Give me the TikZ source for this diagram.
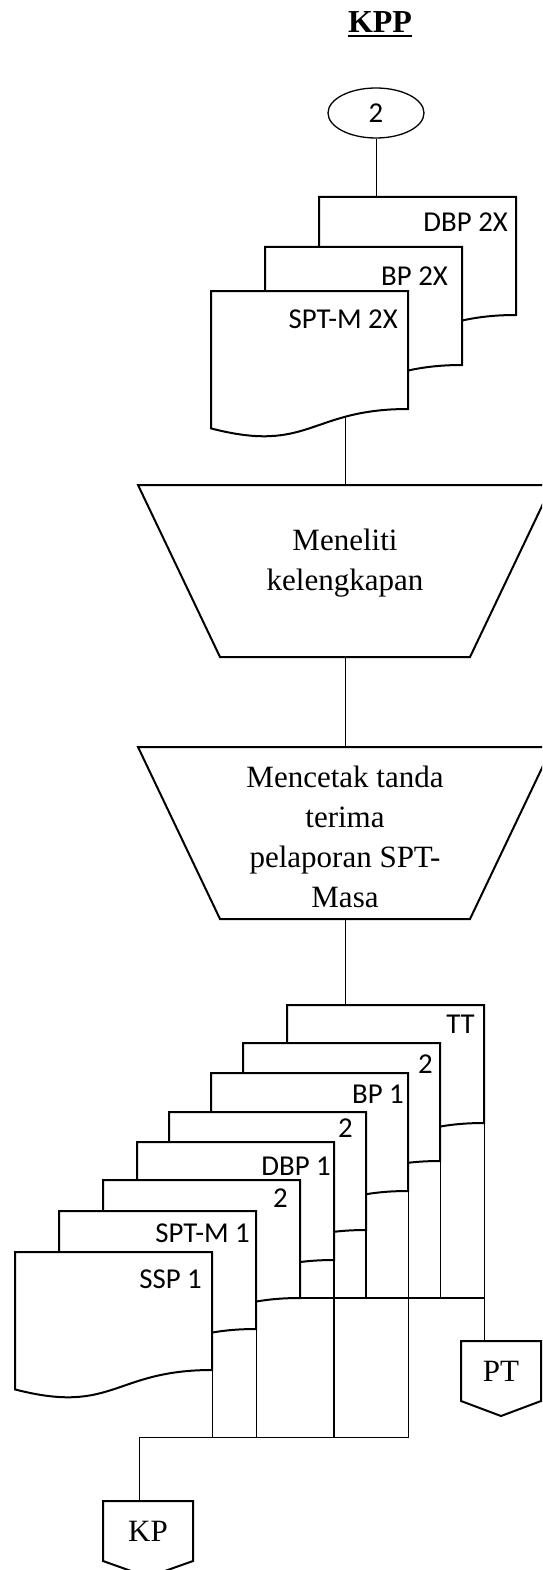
\documentclass[tikz,border=0pt]{standalone}
\usepackage{fontspec}
\setmainfont{Liberation Serif}
\newfontfamily\calibfont{Carlito}
\usetikzlibrary{shapes.geometric}

% document symbol: name, top-left x, top-left y, label, label inset, label drop
\newcommand{\docshape}[6]{%
  \begin{scope}[shift={(#2,#3)}]
    \draw[docline] (0,0) -- (197,0) -- (197,118)
      .. controls (98.5,118) and (98.5,163) .. (0,137.4) -- cycle;
    \coordinate (#1-nw) at (0,0);
    \coordinate (#1-se) at (197,118);
    \node[doclabel] (#1) at (197-#5,#6) {#4};
  \end{scope}}

% manual operation outline around a node
\newcommand{\manualop}[1]{%
  \draw[shapeline] (#1.north west) -- (#1.north east) -- ([xshift=-82pt]#1.south east)
    -- ([xshift=82pt]#1.south west) -- cycle;}

\begin{document}
\begin{tikzpicture}[x=1pt, y=-1pt,
  shapeline/.style={line width=2pt, line join=miter},
  docline/.style={shapeline, fill=white},
  conn/.style={line width=1pt},
  thickconn/.style={line width=1.7pt},
  doclabel/.style={font=\calibfont\fontsize{28.8}{34}\selectfont, inner sep=0pt, anchor=base east},
  proc/.style={minimum width=414pt, minimum height=172pt, inner sep=0pt, outer sep=0pt},
  proctext/.style={font=\fontsize{31}{40}\selectfont, align=center, inner sep=0pt},
  offpage/.style={minimum width=#1, minimum height=60pt, inner sep=0pt, outer sep=0pt,
                  font=\fontsize{31}{37}\selectfont}]

  \useasboundingbox (0,0) rectangle (542,1570);
  \clip (0,0) rectangle (542,1570);

  % title
  \node[font=\fontsize{32}{38}\selectfont\bfseries, inner sep=0pt, anchor=base] (title) at (380,33) {KPP};
  \draw[line width=2pt] ([yshift=-3.5pt]title.base west) -- ([yshift=-3.5pt]title.base east);

  \node[draw, ellipse, line width=1.3pt, minimum width=96pt, minimum height=50pt,
        font=\calibfont\fontsize{28.8}{34}\selectfont] (conn2) at (376,113) {2};

  % documents in
  \docshape{dbp2x}{319}{197}{DBP 2X}{8}{35}
  \docshape{bp2x}{265}{247}{BP 2X}{14}{38}
  \docshape{sptm2x}{211}{291}{SPT-M 2X}{10}{37}
  \coordinate (sptm2x-out) at (345,417);

  % processes
  \node[proc] (teliti) at (345,571) {};
  \manualop{teliti}
  \node[proctext] (teliti-txt) at (345,563) {Meneliti\\kelengkapan};
  \node[proc] (cetak) at (345,833) {};
  \manualop{cetak}
  \node[proctext] (cetak-txt) at (345,837) {Mencetak tanda\\terima\\pelaporan SPT-\\Masa};

  % documents out
  \docshape{tt}{287}{1005}{TT}{9}{28}
  \docshape{d2}{243}{1043}{2}{7}{30}
  \docshape{bp1}{211}{1073}{BP 1}{4}{30}
  \docshape{d4}{169}{1112}{2}{13}{25}
  \docshape{dbp1}{137}{1142}{DBP 1}{3}{33}
  \docshape{d6}{103}{1180}{2}{12}{27}
  \docshape{sptm1}{59}{1211}{SPT-M 1}{6}{31}
  \docshape{ssp1}{15}{1252}{SSP 1}{10}{36}

  % off-page connectors
  \node[offpage=80pt] (pt) at (501,1371) {PT};
  \draw[shapeline] (pt.north west) -- (pt.north east) -- (pt.south east)
    -- ([yshift=-15pt]pt.south) -- (pt.south west) -- cycle;
  \node[offpage=90pt] (kp) at (148,1531) {KP};
  \draw[shapeline] (kp.north west) -- (kp.north east) -- (kp.south east)
    -- ([yshift=-16pt]kp.south) -- (kp.south west) -- cycle;

  % flow
  \draw[conn] (conn2.south) -- (conn2.south |- dbp2x-nw);
  \draw[conn] (sptm2x-out) -- (teliti.north);
  \draw[conn] (teliti.south) -- (cetak.north);
  \draw[conn] (cetak.south) -- (cetak.south |- tt-nw);

  \draw[conn] (tt-se) -- (tt-se |- pt.north);
  \draw[thickconn] (d6-se) -- (d6-se -| tt-se);
  \draw[conn] (d2-se) -- (d2-se |- d6-se);
  \draw[thickconn] (d4-se) -- (d4-se |- d6-se);

  \coordinate (kpbus) at (139,1437);
  \draw[conn] (bp1-se) |- (kpbus) -- (kpbus |- kp.north);
  \draw[thickconn] (dbp1-se) -- (dbp1-se |- kpbus);
  \draw[conn] (sptm1-se) -- (sptm1-se |- kpbus);
  \draw[conn] (ssp1-se) -- (ssp1-se |- kpbus);
\end{tikzpicture}
\end{document}
